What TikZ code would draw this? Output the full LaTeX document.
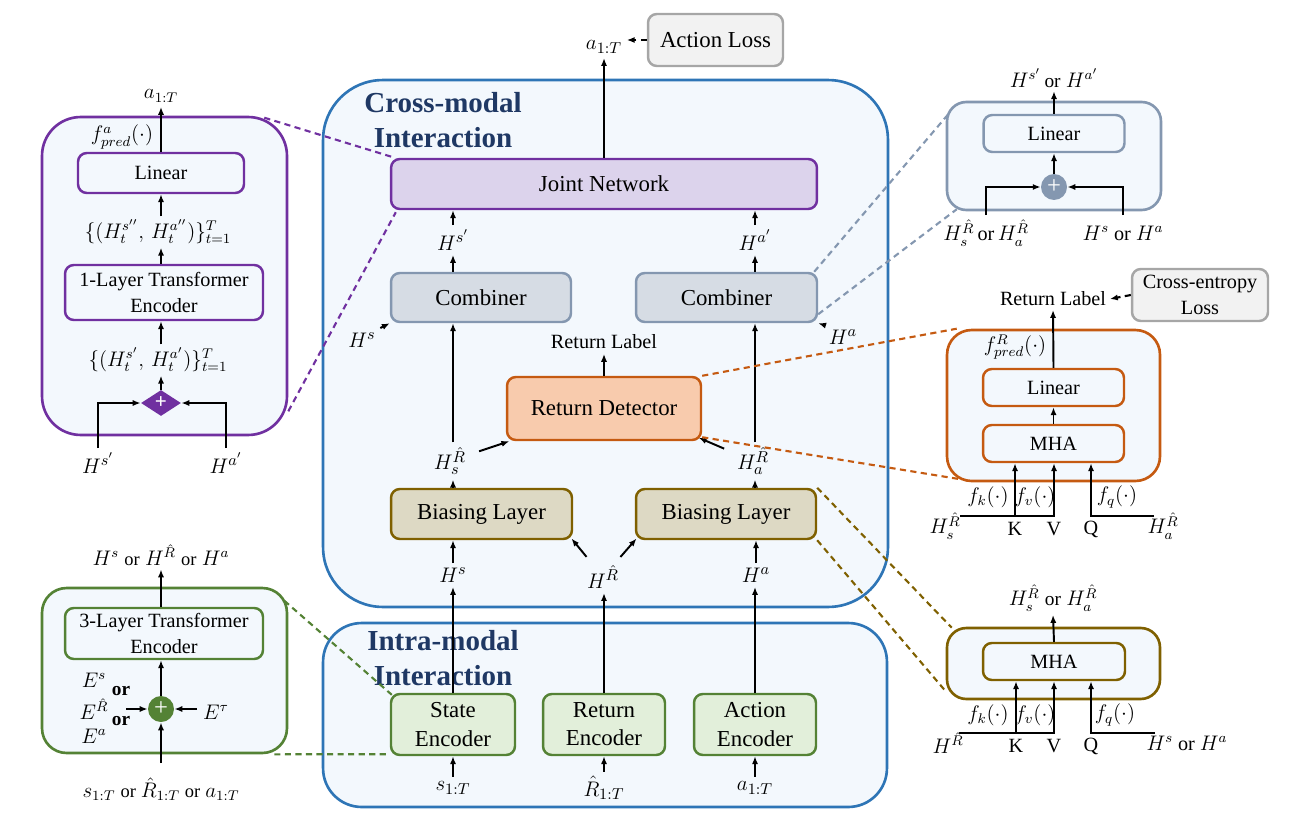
\documentclass[tikz,border=0pt]{standalone}
\usepackage{fontspec}
\setmainfont{Liberation Serif}
\usetikzlibrary{arrows.meta,shapes.geometric}

\definecolor{crossblue}{HTML}{2E75B6}
\definecolor{panelfill}{HTML}{F3F8FD}
\definecolor{navy}{HTML}{1F3864}
\definecolor{purp}{HTML}{7030A0}
\definecolor{purpfill}{HTML}{DCD3EC}
\definecolor{combgray}{HTML}{8497B0}
\definecolor{combfill}{HTML}{D6DCE4}
\definecolor{orng}{HTML}{C55A11}
\definecolor{orngfill}{HTML}{F8CBAD}
\definecolor{olive}{HTML}{7F6000}
\definecolor{olivefill}{HTML}{DDD9C4}
\definecolor{grn}{HTML}{548235}
\definecolor{grnfill}{HTML}{E2EFDA}
\definecolor{lossgray}{HTML}{A6A6A6}
\definecolor{lossfill}{HTML}{F2F2F2}

\begin{document}
\begin{tikzpicture}[x=0.02cm, y=-0.02cm,
    arr/.style = {-{Latex[length=4.5pt, width=3.5pt]}, line width=1.1pt},
    dashln/.style = {dash pattern=on 3.5pt off 2.5pt, line width=1.2pt},
    lbl/.style = {inner sep=2.5pt, font=\fontsize{13}{15}\selectfont},
    slbl/.style = {inner sep=2pt, font=\fontsize{11.5}{13}\selectfont},
    orw/.style = {font=\fontsize{11}{13}\selectfont},
    box/.style = {draw, line width=1.4pt, rounded corners=5pt, align=center, inner sep=0pt, font=\fontsize{13}{16}\selectfont},
    sbox/.style = {box, font=\fontsize{11.5}{14.5}\selectfont},
    panel/.style = {draw, line width=1.5pt, fill=panelfill, inner sep=0pt},
    title/.style = {align=center, text=navy, inner sep=0pt, font=\bfseries\fontsize{16.5}{19.5}\selectfont},
    sum/.style = {circle, minimum size=0.52cm, inner sep=0pt, text=white, font=\fontsize{14}{14}\selectfont}]
    \useasboundingbox (0,0) rectangle (1290,824);

    % main containers
    \node[panel, draw=crossblue, rounded corners=34pt, minimum width=11.3cm, minimum height=10.54cm] (cross) at (605.5,343.5) {};
    \node[panel, draw=crossblue, rounded corners=22pt, minimum width=11.28cm, minimum height=3.68cm] (intra) at (605,715) {};
    \node[title] (crossT) at (443,120) {Cross-modal\\Interaction};
    \node[title] (intraT) at (443,658) {Intra-modal\\Interaction};

    % central blocks
    \node[box, draw=purp, fill=purpfill, minimum width=8.52cm, minimum height=1cm] (joint) at (604,184) {Joint Network};
    \node[box, draw=combgray, fill=combfill, minimum width=3.6cm, minimum height=0.98cm] (combL) at (481,297.5) {Combiner};
    \node[box, draw=combgray, fill=combfill, minimum width=3.62cm, minimum height=0.98cm] (combR) at (726.5,297.5) {Combiner};
    \node[box, draw=orng, fill=orngfill, minimum width=3.88cm, minimum height=1.26cm] (detect) at (604,408.5) {Return Detector};
    \node[box, draw=olive, fill=olivefill, minimum width=3.62cm, minimum height=1cm] (biasL) at (481.5,514) {Biasing Layer};
    \node[box, draw=olive, fill=olivefill, minimum width=3.6cm, minimum height=1cm] (biasR) at (726,514) {Biasing Layer};
    \node[box, draw=grn, fill=grnfill, minimum width=2.48cm, minimum height=1.22cm] (stateEnc) at (453,724.5) {State\\Encoder};
    \node[box, draw=grn, fill=grnfill, minimum width=2.44cm, minimum height=1.22cm] (returnEnc) at (604,724.5) {Return\\Encoder};
    \node[box, draw=grn, fill=grnfill, minimum width=2.44cm, minimum height=1.22cm] (actionEnc) at (755,724.5) {Action\\Encoder};
    \node[box, draw=lossgray, fill=lossfill, minimum width=2.7cm, minimum height=1.04cm] (actLoss) at (715.5,40) {Action Loss};

    % central labels
    \node[lbl] (aOut) at (604,47) {$a_{1:T}$};
    \node[lbl] (hSp) at (453,240) {$H^{s'}$};
    \node[lbl] (hAp) at (755,240) {$H^{a'}$};
    \node[lbl] (hSc) at (362,340) {$H^{s}$};
    \node[lbl] (hAc) at (843,337) {$H^{a}$};
    \node[lbl, font=\fontsize{11.5}{13}\selectfont] (retLbl) at (604,342) {Return Label};
    \node[lbl] (hSR) at (450,461) {$H_s^{\hat R}$};
    \node[lbl] (hAR) at (753,461) {$H_a^{\hat R}$};
    \node[lbl] (hS) at (453,575) {$H^{s}$};
    \node[lbl] (hR) at (603,577) {$H^{\hat R}$};
    \node[lbl] (hA) at (756,575) {$H^{a}$};
    \node[lbl] (sIn) at (453,788) {$s_{1:T}$};
    \node[lbl] (rIn) at (604,788) {$\hat{R}_{1:T}$};
    \node[lbl] (aIn) at (755,788) {$a_{1:T}$};

    % central connectors
    \draw[arr] (joint.north) -- (aOut.south);
    \draw[dashln, -{Latex[length=4.5pt, width=3.5pt]}] (actLoss.west) -- (actLoss.west -| aOut.east);
    \draw[arr] (combL.north -| hSp) -- (hSp.south);
    \draw[arr] (hSp.north) -- (hSp.north |- joint.south);
    \draw[arr] (combR.north -| hAp) -- (hAp.south);
    \draw[arr] (hAp.north) -- (hAp.north |- joint.south);
    \draw[arr] (hSc.north east) -- (combL.south west);
    \draw[arr] (hAc.north west) -- (combR.south east);
    \draw[arr] (detect.north) -- (retLbl.south);
    \draw[arr] (hSR.north -| hSp) -- (hSp |- combL.south);
    \draw[arr] (hAR.north -| hAp) -- (hAp |- combR.south);
    \draw[arr] (biasL.north -| hSp) -- (hSR.south -| hSp);
    \draw[arr] (biasR.north -| hAp) -- (hAR.south -| hAp);
    \draw[arr, shorten <=5pt] (hSR) -- ([xshift=2pt]detect.south west);
    \draw[arr, shorten <=5pt] (hAR) -- ([xshift=-2pt, yshift=2pt]detect.south east);
    \draw[arr] (hS.north) -- (hS.north |- biasL.south);
    \draw[arr] (hA.north) -- (hA.north |- biasR.south);
    \draw[arr, shorten <=3pt] (hR) -- ([xshift=-1pt, yshift=1pt]biasL.south east);
    \draw[arr, shorten <=3pt] (hR) -- ([xshift=1pt, yshift=1pt]biasR.south west);
    \draw[arr] (stateEnc.north) -- (hS.south);
    \draw[arr, line width=1.5pt] (returnEnc.north) -- (returnEnc.north |- hR.south);
    \draw[arr] (actionEnc.north) -- (actionEnc.north |- hA.south);
    \draw[arr] (sIn.north) -- (stateEnc.south);
    \draw[arr] (rIn.north) -- (returnEnc.south);
    \draw[arr] (aIn.north) -- (actionEnc.south);

    % joint network detail (left top)
    \node[panel, draw=purp, rounded corners=22pt, minimum width=4.9cm, minimum height=6.36cm] (predPanel) at (164.5,276) {};
    \node[sbox, draw=purp, fill=panelfill, minimum width=3.32cm, minimum height=0.8cm] (predLin) at (161,173) {Linear};
    \node[sbox, draw=purp, fill=panelfill, minimum width=3.96cm, minimum height=1.1cm] (predTr) at (164,292.5) {1-Layer Transformer\\Encoder};
    \node[lbl, font=\fontsize{12}{14}\selectfont] (predOut) at (161,96) {$a_{1:T}$};
    \node[slbl] (predF) at (122,137) {$f^a_{pred}(\cdot)$};
    \node[slbl] (predH2) at (158,232) {$\{(H_t^{s''},\,H_t^{a''})\}_{t=1}^T$};
    \node[slbl] (predH1) at (158,360) {$\{(H_t^{s'},\,H_t^{a'})\}_{t=1}^T$};
    \node[diamond, fill=purp, minimum width=0.8cm, minimum height=0.52cm, inner sep=0pt, text=white, font=\fontsize{12}{12}\selectfont\bfseries] (predSum) at (161,403) {+};
    \node[lbl] (predHs) at (98,463) {$H^{s'}$};
    \node[lbl] (predHa) at (226,463) {$H^{a'}$};
    \draw[arr] (predLin.north) -- (predLin.north |- predOut.south);
    \draw[arr] (predH2.north -| predLin) -- (predLin.south);
    \draw[arr] (predTr.north -| predLin) -- (predH2.south -| predLin);
    \draw[arr] (predH1.north -| predLin) -- (predTr.south -| predLin);
    \draw[arr] (predSum.north) -- (predH1.south -| predSum);
    \draw[arr] (predHs.north) |- (predSum.west);
    \draw[arr] (predHa.north) |- (predSum.east);
    \draw[dashln, draw=purp] ([xshift=-0.48cm, yshift=-0.04cm]predPanel.north east) -- ([xshift=0.1cm]joint.north west);
    \draw[dashln, draw=purp] ([yshift=0.5cm]predPanel.south east) -- ([xshift=0.12cm, yshift=-0.04cm]joint.south west);

    % encoder detail (left bottom)
    \node[panel, draw=grn, rounded corners=14pt, minimum width=4.9cm, minimum height=3.3cm] (encPanel) at (164.5,670.5) {};
    \node[sbox, draw=grn, fill=panelfill, minimum width=3.96cm, minimum height=1.02cm] (encTr) at (164,633.5) {3-Layer Transformer\\Encoder};
    \node[sum, fill=grn] (encSum) at (161,709) {+};
    \node[slbl, font=\fontsize{12}{14}\selectfont] (encOut) at (161,555) {$H^s$ {\fontsize{10.5}{13}\selectfont or} $H^{\hat R}$ {\fontsize{10.5}{13}\selectfont or} $H^a$};
    \node[lbl, font=\fontsize{12}{14}\selectfont] (encEs) at (94,680) {$E^s$};
    \node[slbl, font=\fontsize{11}{13}\selectfont\bfseries] (encOr1) at (121,691) {or};
    \node[lbl, font=\fontsize{12}{14}\selectfont] (encER) at (94,709) {$E^{\hat R}$};
    \node[slbl, font=\fontsize{11}{13}\selectfont\bfseries] (encOr2) at (121,721) {or};
    \node[lbl, font=\fontsize{12}{14}\selectfont] (encEa) at (94,736) {$E^a$};
    \node[lbl, font=\fontsize{12}{14}\selectfont] (encTau) at (216,712) {$E^\tau$};
    \node[slbl] (encIn) at (161,789) {$s_{1:T}$ {\fontsize{10.5}{13}\selectfont or} $\hat{R}_{1:T}$ {\fontsize{10.5}{13}\selectfont or} $a_{1:T}$};
    \coordinate (encEmb) at (126,709);
    \coordinate (encPos) at (197,709);
    \coordinate (encInTop) at (161,763);
    \draw[arr] (encTr.north -| encSum) -- (encOut.south -| encSum);
    \draw[arr] (encSum.north) -- (encSum.north |- encTr.south);
    \draw[arr] (encEmb) -- (encSum.west);
    \draw[arr] (encPos) -- (encSum.east);
    \draw[arr] (encInTop) -- (encSum.south);
    \draw[dashln, draw=grn] ([xshift=-0.08cm, yshift=-0.28cm]encPanel.north east) -- ([xshift=0.04cm, yshift=-0.04cm]stateEnc.north west);
    \draw[dashln, draw=grn] ([xshift=-0.28cm]encPanel.south east) -- ([yshift=0.04cm]stateEnc.south west);

    % combiner detail (right top)
    \node[panel, draw=combgray, rounded corners=11pt, minimum width=4.28cm, minimum height=2.16cm] (combPanel) at (1054,156) {};
    \node[sbox, draw=combgray, fill=panelfill, minimum width=2.82cm, minimum height=0.74cm] (combLin) at (1054,133.5) {Linear};
    \node[sum, fill=combgray] (combSum) at (1054,187) {+};
    \node[slbl, font=\fontsize{12}{14}\selectfont] (combOut) at (1054,78) {$H^{s'}$\,{\fontsize{11}{13}\selectfont or} $H^{a'}$};
    \node[slbl] (combInL) at (986,233) {$H_s^{\hat R}$\,or\,$H_a^{\hat R}$};
    \node[slbl] (combInR) at (1123,233) {$H^s$ or $H^a$};
    \coordinate (combWL) at (986,215);
    \coordinate (combWR) at (1123,215);
    \draw[arr] (combLin.north) -- (combOut.south);
    \draw[arr] (combSum.north) -- (combLin.south);
    \draw[arr] (combWL) |- (combSum.west);
    \draw[arr] (combWR) |- (combSum.east);
    \draw[dashln, draw=combgray] ([xshift=-0.08cm]combR.north east) -- ([xshift=0.06cm, yshift=-0.26cm]combPanel.north west);
    \draw[dashln, draw=combgray] ([yshift=0.18cm]combR.south east) -- ([xshift=0.22cm, yshift=0.04cm]combPanel.south west);

    % return detector detail (right middle)
    \node[panel, draw=orng, rounded corners=14pt, minimum width=4.26cm, minimum height=3.02cm] (detPanel) at (1053.5,405.5) {};
    \node[sbox, draw=orng, fill=panelfill, minimum width=2.82cm, minimum height=0.74cm] (detLin) at (1053.5,387.5) {Linear};
    \node[sbox, draw=orng, fill=panelfill, minimum width=2.82cm, minimum height=0.74cm] (detMHA) at (1053.5,443.5) {MHA};
    \node[slbl, font=\fontsize{11.5}{13}\selectfont] (detOut) at (1053,299) {Return Label};
    \node[sbox, draw=lossgray, fill=lossfill, minimum width=2.72cm, minimum height=1.04cm] (ceLoss) at (1200,295) {Cross-entropy\\Loss};
    \node[slbl] (detF) at (1015,347) {$f^R_{pred}(\cdot)$};
    \node[slbl] (detFk) at (988,497) {$f_k(\cdot)$};
    \node[slbl] (detFv) at (1035,497) {$f_v(\cdot)$};
    \node[slbl] (detFq) at (1117,497) {$f_q(\cdot)$};
    \node[slbl] (detHs) at (945,526) {$H_s^{\hat R}$};
    \node[slbl] (detHa) at (1163,526) {$H_a^{\hat R}$};
    \node[slbl] (detK) at (1015,529) {K};
    \node[slbl] (detV) at (1054,529) {V};
    \node[slbl] (detQ) at (1091,529) {Q};
    \coordinate (detKVs) at (960,516);
    \coordinate (detQs) at (1154,516);
    \draw[arr] (detLin.north) -- (detOut.south);
    \draw[dashln, -{Latex[length=4.5pt, width=3.5pt]}] (ceLoss.west) -- (detOut.east);
    \draw[arr] (detMHA.north) -- (detLin.south);
    \draw[arr] (detKVs) -| (detV |- detMHA.south);
    \draw[arr] (detKVs -| detK) -- (detK |- detMHA.south);
    \draw[arr] (detQs) -| (detQ |- detMHA.south);
    \draw[dashln, draw=orng] (detect.north east) -- ([xshift=0.22cm]detPanel.north west);
    \draw[dashln, draw=orng] ([yshift=0.08cm]detect.south east) -- ([xshift=0.3cm, yshift=0.06cm]detPanel.south west);

    % biasing layer detail (right bottom)
    \node[panel, draw=olive, rounded corners=11pt, minimum width=4.26cm, minimum height=1.42cm] (biasPanel) at (1053.5,663.5) {};
    \node[sbox, draw=olive, fill=panelfill, minimum width=2.84cm, minimum height=0.74cm] (biasMHA) at (1054,661.5) {MHA};
    \node[slbl, font=\fontsize{12}{14}\selectfont] (biasOut) at (1053,598) {$H_s^{\hat R}$ {\fontsize{11}{13}\selectfont or} $H_a^{\hat R}$};
    \node[slbl] (biasFk) at (988,715) {$f_k(\cdot)$};
    \node[slbl] (biasFv) at (1035,715) {$f_v(\cdot)$};
    \node[slbl] (biasFq) at (1115,715) {$f_q(\cdot)$};
    \node[slbl] (biasHR) at (948,743) {$H^{\hat R}$};
    \node[slbl] (biasHsa) at (1187,743) {$H^s$ or $H^a$};
    \node[slbl] (biasK) at (1016,746) {K};
    \node[slbl] (biasV) at (1054,746) {V};
    \node[slbl] (biasQ) at (1091,746) {Q};
    \coordinate (biasKVs) at (959,733);
    \coordinate (biasQs) at (1155,733);
    \draw[arr] (biasMHA.north) -- (biasOut.south);
    \draw[arr] (biasKVs) -| (biasV |- biasMHA.south);
    \draw[arr] (biasKVs -| biasK) -- (biasK |- biasMHA.south);
    \draw[arr] (biasQs) -| (biasQ |- biasMHA.south);
    \draw[dashln, draw=olive] (biasR.north east) -- ([xshift=0.12cm, yshift=-0.02cm]biasPanel.north west);
    \draw[dashln, draw=olive] (biasR.south east) -- ([yshift=0.18cm]biasPanel.south west);
\end{tikzpicture}
\end{document}
